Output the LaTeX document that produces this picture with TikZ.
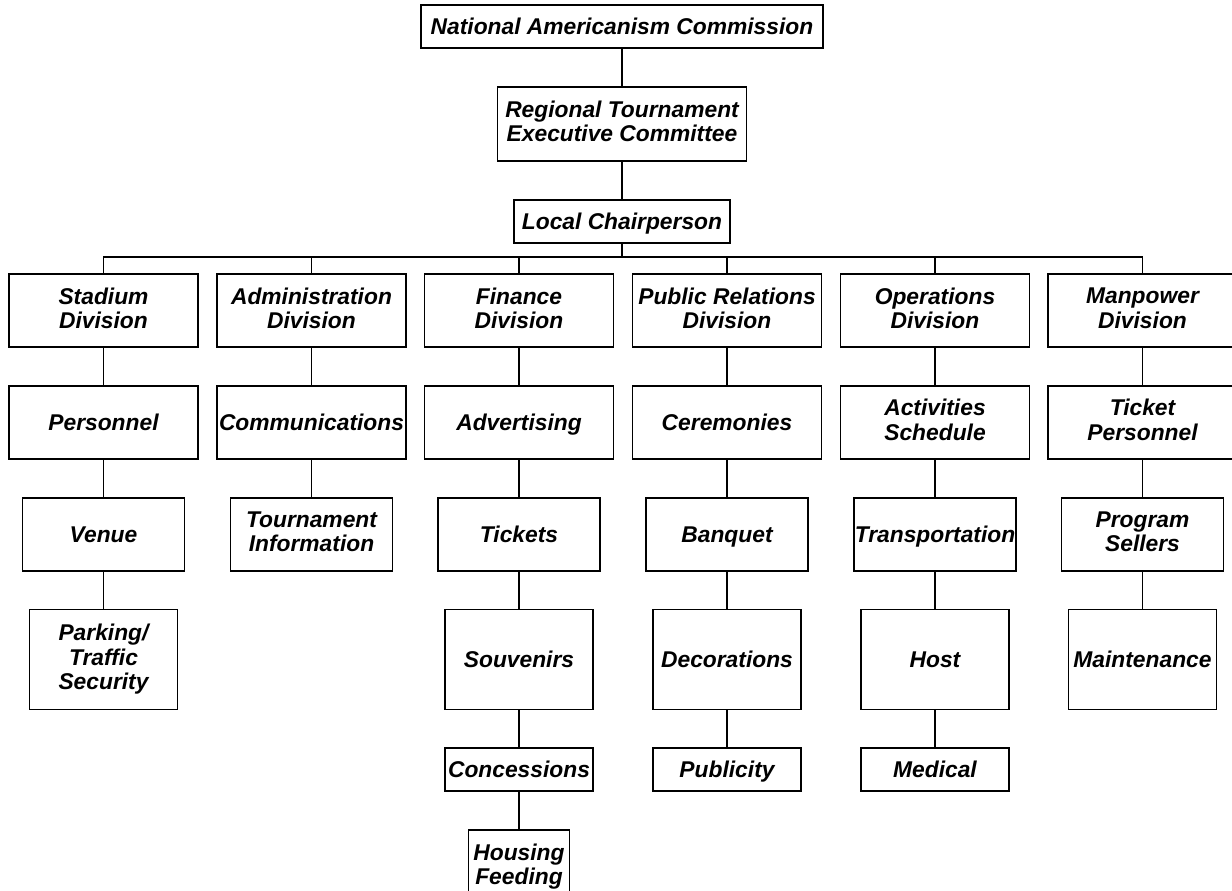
\documentclass[tikz,border=0pt]{standalone}
\usepackage{fontspec}
\setmainfont{Liberation Sans}
\usetikzlibrary{positioning}

\begin{document}
\begin{tikzpicture}[x=0.5pt, y=-0.5pt, node distance = 18.5pt, line width=0.9pt]

  \tikzstyle{office}=[draw, align=center, inner sep=0pt, font=\bfseries\itshape\fontsize{11.4}{12.2}\selectfont,
    execute at begin node={\rule{0pt}{10.7pt}}, execute at end node={\rule[-2.5pt]{0pt}{2.5pt}}]
  \tikzstyle{division}=[office, minimum width=94.5pt, minimum height=36.5pt]
  \tikzstyle{subunit}=[office, minimum width=81pt, minimum height=36.5pt]
  \tikzstyle{tallunit}=[office, minimum width=74pt, minimum height=50pt]
  \tikzstyle{flatunit}=[office, minimum width=74pt, minimum height=21.5pt]
  \tikzstyle{smallunit}=[office, minimum width=50.5pt, minimum height=37pt]

  \useasboundingbox (0,0) rectangle (1232,890);
  \clip (0,0) rectangle (1232,890);

  \node [office, minimum width=201pt, minimum height=21.5pt] (nac) at (622,26.5) {National Americanism Commission};
  \node [office, minimum width=124.5pt, minimum height=37pt, below = of nac] (rtec) {Regional Tournament\\Executive Committee};
  \node [office, minimum width=108pt, minimum height=21.5pt, below = of rtec] (chair) {Local Chairperson};

  \coordinate (bus) at (622,257);

  % divisions
  \node [division] (stadium) at (103.5,310.5) {Stadium\\Division};
  \node [division] (admin) at (311.5,310.5) {Administration\\Division};
  \node [division] (finance) at (519,310.5) {Finance\\Division};
  \node [division] (pr) at (727,310.5) {Public Relations\\Division};
  \node [division] (ops) at (935,310.5) {Operations\\Division};
  \node [division] (manpower) at (1142.5,310.5) {Manpower\\Division};

  % stadium column
  \node [division, below = of stadium] (personnel) {Personnel};
  \node [subunit, below = of personnel] (venue) {Venue};
  \node [tallunit, below = of venue] (parking) {Parking/\\Traffic\\Security};

  % administration column
  \node [division, below = of admin] (comms) {Communications};
  \node [subunit, below = of comms] (info) {Tournament\\Information};

  % finance column
  \node [division, below = of finance] (advert) {Advertising};
  \node [subunit, below = of advert] (tickets) {Tickets};
  \node [tallunit, below = of tickets] (souvenirs) {Souvenirs};
  \node [flatunit, below = of souvenirs] (concessions) {Concessions};
  \node [smallunit, below = of concessions] (housing) {Housing\\Feeding};

  % public relations column
  \node [division, below = of pr] (ceremonies) {Ceremonies};
  \node [subunit, below = of ceremonies] (banquet) {Banquet};
  \node [tallunit, below = of banquet] (decorations) {Decorations};
  \node [flatunit, below = of decorations] (publicity) {Publicity};

  % operations column
  \node [division, below = of ops] (activities) {Activities\\Schedule};
  \node [subunit, below = of activities] (transport) {Transportation};
  \node [tallunit, below = of transport] (host) {Host};
  \node [flatunit, below = of host] (medical) {Medical};

  % manpower column
  \node [division, below = of manpower] (ticketstaff) {Ticket\\Personnel};
  \node [subunit, below = of ticketstaff] (sellers) {Program\\Sellers};
  \node [tallunit, below = of sellers] (maintenance) {Maintenance};

  \draw (nac) -- (rtec);
  \draw (rtec) -- (chair);
  \draw (chair) -- (bus);

  \draw (bus) -| (stadium);
  \draw (bus) -| (admin);
  \draw (bus) -| (finance);
  \draw (bus) -| (pr);
  \draw (bus) -| (ops);
  \draw (bus) -| (manpower);

  \draw (stadium) -- (personnel);
  \draw (personnel) -- (venue);
  \draw (venue) -- (parking);

  \draw (admin) -- (comms);
  \draw (comms) -- (info);

  \draw (finance) -- (advert);
  \draw (advert) -- (tickets);
  \draw (tickets) -- (souvenirs);
  \draw (souvenirs) -- (concessions);
  \draw (concessions) -- (housing);

  \draw (pr) -- (ceremonies);
  \draw (ceremonies) -- (banquet);
  \draw (banquet) -- (decorations);
  \draw (decorations) -- (publicity);

  \draw (ops) -- (activities);
  \draw (activities) -- (transport);
  \draw (transport) -- (host);
  \draw (host) -- (medical);

  \draw (manpower) -- (ticketstaff);
  \draw (ticketstaff) -- (sellers);
  \draw (sellers) -- (maintenance);

\end{tikzpicture}
\end{document}
